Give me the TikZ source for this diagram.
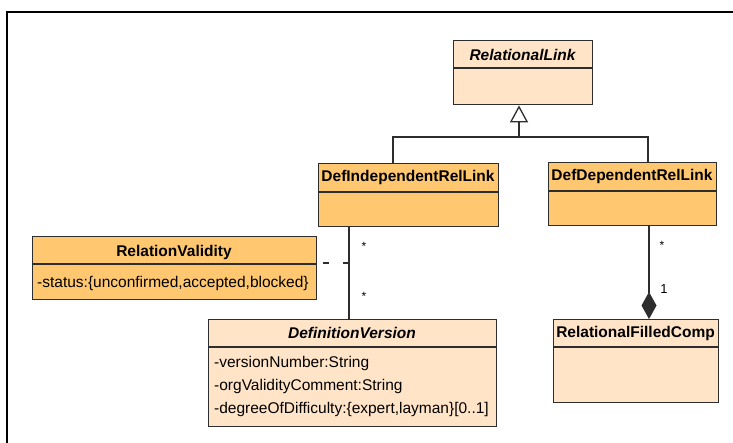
\documentclass[tikz,border=0pt]{standalone}
\usepackage{fontspec}
\setmainfont{Liberation Sans}
\usetikzlibrary{arrows.meta,calc}

\definecolor{classlight}{RGB}{255,228,200}
\definecolor{classorange}{RGB}{255,200,112}
\definecolor{edgegray}{RGB}{45,45,45}

\tikzset{
  classbox/.style={draw=edgegray, line width=1.4pt, anchor=north west, inner sep=0pt},
  lightclass/.style={classbox, fill=classlight},
  orangeclass/.style={classbox, fill=classorange},
  divider/.style={draw=edgegray, line width=1.2pt},
  ctitle/.style={font=\fontsize{15.5}{18}\selectfont\bfseries, inner sep=0pt},
  ctitleit/.style={font=\fontsize{15.5}{18}\selectfont\bfseries\itshape, inner sep=0pt},
  attr/.style={font=\fontsize{15.5}{18}\selectfont, anchor=west, inner sep=0pt},
  conn/.style={draw=edgegray, line width=1.3pt},
  mult/.style={font=\fontsize{12}{13}\selectfont, inner sep=0pt},
}

\begin{document}
\begin{tikzpicture}[x=1pt,y=-1pt]
\useasboundingbox (0,0) rectangle (733,443);
\fill[white] (0,0) rectangle (733,443);

% frame of the diagram canvas
\draw[line width=2pt, black] (7,443) -- (7,12) -- (733,12);

% RelationalLink (abstract)
\node[lightclass, minimum width=139pt, minimum height=64pt] (RL) at (453,40) {};
\draw[divider] (453,68) -- (592,68);
\node[ctitleit] (RLt) at (522.5,55) {RelationalLink};

% DefIndependentRelLink
\node[orangeclass, minimum width=180pt, minimum height=63pt] (DIRL) at (318,163) {};
\draw[divider] (318,192) -- (498,192);
\node[ctitle] (DIRLt) at (408,177) {DefIndependentRelLink};

% DefDependentRelLink
\node[orangeclass, minimum width=168pt, minimum height=63pt] (DDRL) at (548,162) {};
\draw[divider] (548,191) -- (716,191);
\node[ctitle] (DDRLt) at (632,176) {DefDependentRelLink};

% RelationValidity
\node[orangeclass, minimum width=284pt, minimum height=63pt] (RV) at (32,236) {};
\draw[divider] (32,264) -- (316,264);
\node[ctitle] (RVt) at (174,252) {RelationValidity};
\node[attr] (RVa) at (37,283) {-status:\{unconfirmed,accepted,blocked\}};

% DefinitionVersion
\node[lightclass, minimum width=288pt, minimum height=107pt] (DV) at (208,319) {};
\draw[divider] (208,347) -- (496,347);
\node[ctitleit] (DVt) at (352,333) {DefinitionVersion};
\node[attr] (DVa1) at (214,363) {-versionNumber:String};
\node[attr] (DVa2) at (214,386) {-orgValidityComment:String};
\node[attr] (DVa3) at (214,409) {-degreeOfDifficulty:\{expert,layman\}[0..1]};

% RelationalFilledComp
\node[lightclass, minimum width=165pt, minimum height=83pt] (RFC) at (553,319) {};
\draw[divider] (553,347) -- (718,347);
\node[ctitle] (RFCt) at (635.5,333) {RelationalFilledComp};

% generalization: both link kinds specialise RelationalLink
\coordinate (gl) at (393,137);
\coordinate (gm) at (519,137);
\coordinate (gr) at (648,137);
\draw[conn] (gl |- DIRL.north) -- (gl) -- (gr) -- (gr |- DDRL.north);
\draw[conn, -{Triangle[open, length=17pt, width=18pt, line width=1.3pt]}] (gm) -- (gm |- RL.south);

% association DefIndependentRelLink -- DefinitionVersion
\coordinate (av) at (349,0);
\draw[conn] (av |- DIRL.south) -- (av |- DV.north);
\node[mult] (m1) at (364,246) {*};
\node[mult] (m2) at (364,296) {*};

% association class link to RelationValidity
\coordinate (ac) at (349,263);
\draw[conn, dash pattern=on 6pt off 14pt] (ac) -- (ac -| RV.east);

% composition DefDependentRelLink -- RelationalFilledComp
\coordinate (cv) at (649,0);
\draw[conn, -{Diamond[length=27pt, width=15pt]}] (cv |- DDRL.south) -- (cv |- RFC.north);
\node[mult] (m3) at (662,245) {*};
\node[font=\fontsize{13}{15}\selectfont, inner sep=0pt] (m4) at (664,289) {1};
\end{tikzpicture}
\end{document}
